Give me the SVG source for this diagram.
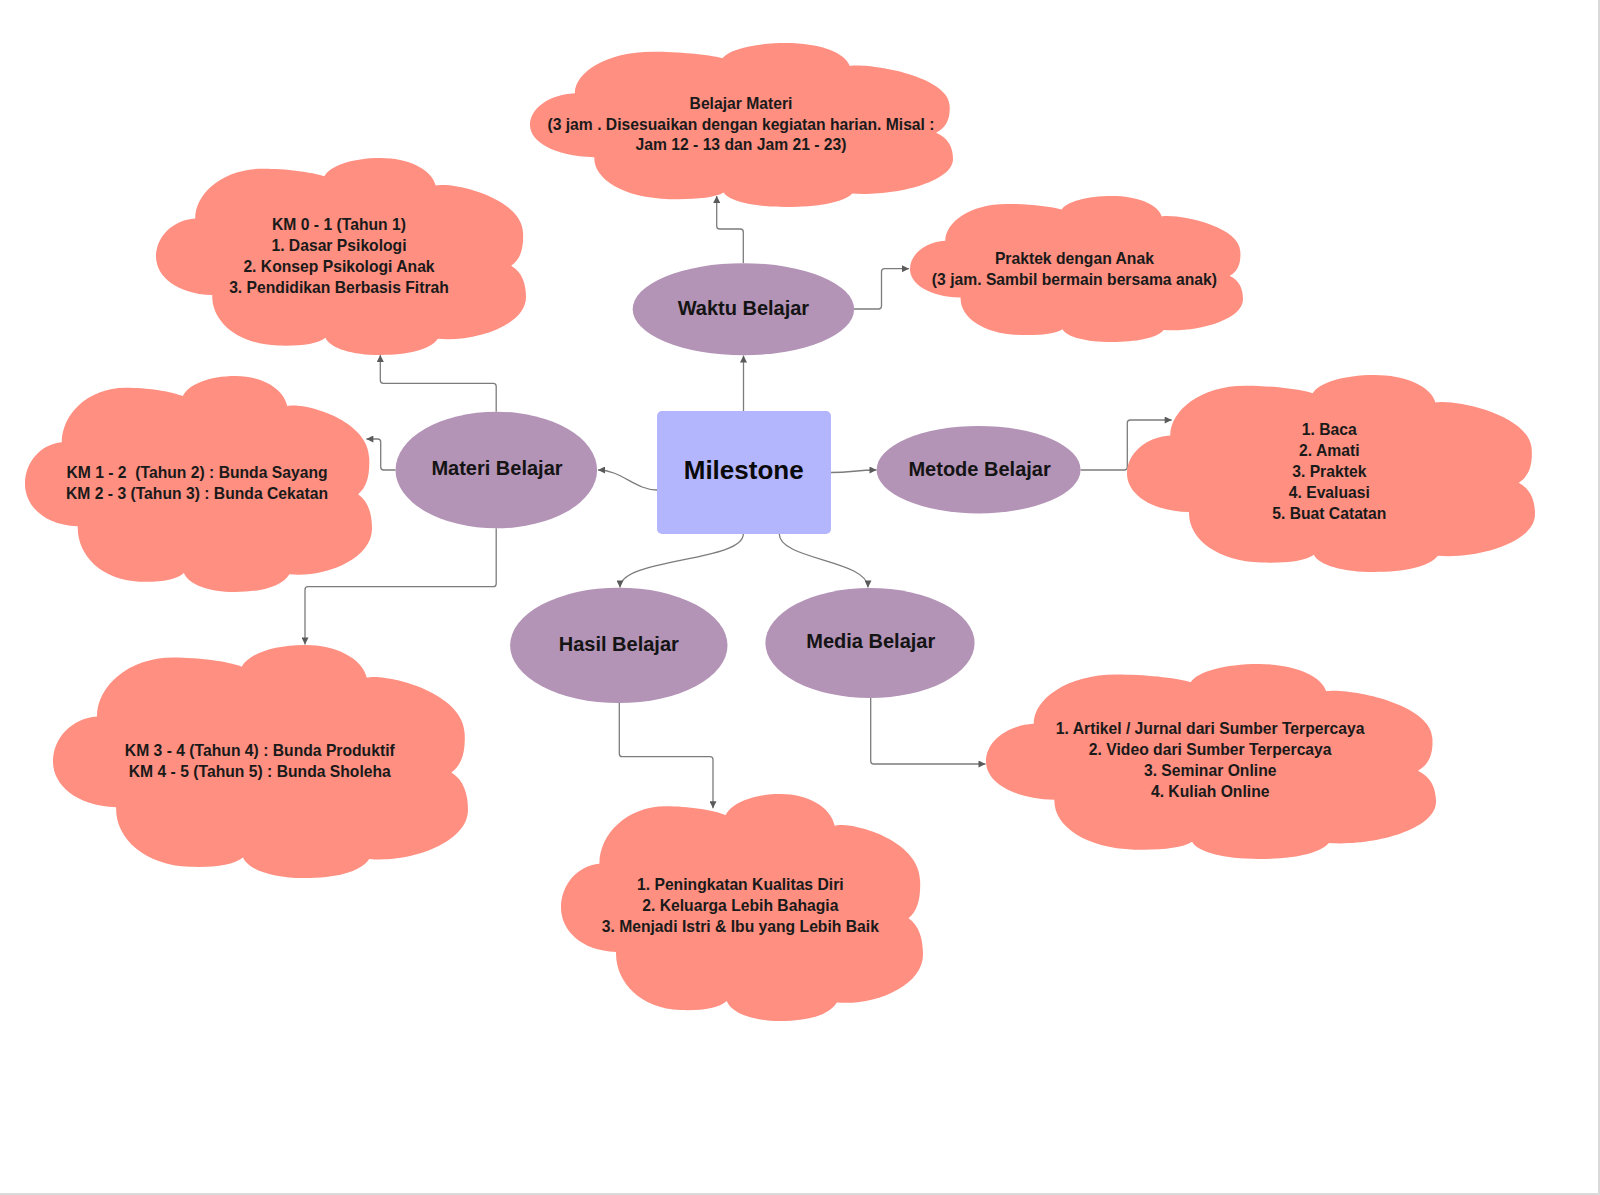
<svg xmlns="http://www.w3.org/2000/svg" xmlns:xlink="http://www.w3.org/1999/xlink" width="1600" height="1195" viewBox="0 0 1600 1195">
<style>
.cloud{fill:#ff8f80}
.ell{fill:#b393b6}
.ct{font-family:"Liberation Sans",Arial,sans-serif;font-weight:bold;font-size:15.7px;fill:#1a1a1a;text-anchor:middle;white-space:pre}
.et{font-family:"Liberation Sans",Arial,sans-serif;font-weight:bold;font-size:20px;fill:#141414;text-anchor:middle}
.mt{font-family:"Liberation Sans",Arial,sans-serif;font-weight:bold;font-size:26px;fill:#0a0a0a;text-anchor:middle}
.cn{fill:none;stroke:#7c7c7c;stroke-width:1.3;marker-end:url(#arr)}
.frame{stroke:#dadada;stroke-width:2}
</style>
<defs>
<marker id="arr" viewBox="0 0 10 10" refX="10" refY="5" markerWidth="9" markerHeight="7" markerUnits="userSpaceOnUse" orient="auto">
<path d="M0,0 L10,5 L0,10 z" fill="#5a5a5a"/>
</marker>
<path id="cloudShape" d="M152,696 C55,690 0,600 0,500 C0,400 45,315 106,307 C106,180 180,54 290,54 C350,54 420,70 455,93 C470,40 530,0 607,0 C680,0 745,55 756,140 C800,120 990,200 992,381 C994,460 985,515 960,547 C990,580 1000,640 1000,707 C1000,850 860,935 762,918 C740,975 680,1000 605,1000 C530,1000 470,965 458,912 C435,945 390,955 330,952 C220,945 150,830 152,696 Z"/>
</defs>
<rect width="1600" height="1195" fill="#ffffff"/>
<g id="frame">
<line class="frame" x1="1599" y1="0" x2="1599" y2="1195"/>
<line class="frame" x1="0" y1="1194" x2="1600" y2="1194"/>
</g>
<g id="connectors">
<path class="cn" d="M743.5,411 V355.5"/>
<path class="cn" d="M743.3,263 V232 Q743.3,229 740.3,229 H719.7 Q716.7,229 716.7,226 V196"/>
<path class="cn" d="M854,309 H878.5 Q881.5,309 881.5,306 V271.7 Q881.5,268.7 884.5,268.7 H909"/>
<path class="cn" d="M657,490 C635,490 622,470 598,470"/>
<path class="cn" d="M831,472.5 C852,472.5 856,470 876.5,470"/>
<path class="cn" d="M743.3,534 C743.3,562 620,558 620,587.5"/>
<path class="cn" d="M779.3,534 C779.3,560 868,560 868,587.5"/>
<path class="cn" d="M1080.6,470 H1124.3 Q1127.3,470 1127.3,467 V423 Q1127.3,420 1130.3,420 H1171.7"/>
<path class="cn" d="M496.2,411.7 V386.3 Q496.2,383.3 493.2,383.3 H383.3 Q380.3,383.3 380.3,380.3 V355"/>
<path class="cn" d="M395.5,470 H383.7 Q380.7,470 380.7,467 V442 Q380.7,439 377.7,439 H366.4"/>
<path class="cn" d="M496.2,528.3 V583.7 Q496.2,586.7 493.2,586.7 H308 Q305,586.7 305,589.7 V644.5"/>
<path class="cn" d="M619.3,703 V753.7 Q619.3,756.7 622.3,756.7 H710 Q713,756.7 713,759.7 V808.3"/>
<path class="cn" d="M870.7,698 V761 Q870.7,764 873.7,764 H985.5"/>
</g>
<g id="milestone">
<rect x="657" y="411" width="174" height="123" rx="5" fill="#b3b5fd"/>
<text class="mt" x="743.7" y="479.3">Milestone</text>
</g>
<g id="waktu-belajar">
<ellipse class="ell" cx="743.4" cy="309.2" rx="110.7" ry="46"/>
<text class="et" x="743.4" y="315">Waktu Belajar</text>
</g>
<g id="materi-belajar">
<ellipse class="ell" cx="496.3" cy="470" rx="100.8" ry="58.3"/>
<text class="et" x="497" y="475">Materi Belajar</text>
</g>
<g id="metode-belajar">
<ellipse class="ell" cx="978.6" cy="469.7" rx="102" ry="43.7"/>
<text class="et" x="979.6" y="475.7">Metode Belajar</text>
</g>
<g id="hasil-belajar">
<ellipse class="ell" cx="618.8" cy="645.4" rx="108.7" ry="57.7"/>
<text class="et" x="618.8" y="651">Hasil Belajar</text>
</g>
<g id="media-belajar">
<ellipse class="ell" cx="870" cy="643" rx="104.6" ry="55"/>
<text class="et" x="870.8" y="648.3">Media Belajar</text>
</g>
<g id="cloud-belajar-materi">
<use xlink:href="#cloudShape" href="#cloudShape" class="cloud" transform="translate(530,43) scale(0.423,0.164)"/>
<text class="ct" x="741" y="109">Belajar Materi</text>
<text class="ct" x="741" y="129.5">(3 jam . Disesuaikan dengan kegiatan harian. Misal :</text>
<text class="ct" x="741" y="150">Jam 12 - 13 dan Jam 21 - 23)</text>
</g>
<g id="cloud-praktek">
<use xlink:href="#cloudShape" href="#cloudShape" class="cloud" transform="translate(910,196) scale(0.333,0.146)"/>
<text class="ct" x="1074.4" y="263.5">Praktek dengan Anak</text>
<text class="ct" x="1074.4" y="284.5">(3 jam. Sambil bermain bersama anak)</text>
</g>
<g id="cloud-km01">
<use xlink:href="#cloudShape" href="#cloudShape" class="cloud" transform="translate(156,158) scale(0.370,0.197)"/>
<text class="ct" x="339" y="229.5">KM 0 - 1 (Tahun 1)</text>
<text class="ct" x="339" y="250.5">1. Dasar Psikologi</text>
<text class="ct" x="339" y="271.5">2. Konsep Psikologi Anak</text>
<text class="ct" x="339" y="292.5">3. Pendidikan Berbasis Fitrah</text>
</g>
<g id="cloud-km12">
<use xlink:href="#cloudShape" href="#cloudShape" class="cloud" transform="translate(25,376) scale(0.347,0.216)"/>
<text class="ct" x="197" y="477.5" xml:space="preserve">KM 1 - 2  (Tahun 2) : Bunda Sayang</text>
<text class="ct" x="197" y="498.5">KM 2 - 3 (Tahun 3) : Bunda Cekatan</text>
</g>
<g id="cloud-metode">
<use xlink:href="#cloudShape" href="#cloudShape" class="cloud" transform="translate(1127,375) scale(0.408,0.197)"/>
<text class="ct" x="1329.3" y="435">1. Baca</text>
<text class="ct" x="1329.3" y="456">2. Amati</text>
<text class="ct" x="1329.3" y="477">3. Praktek</text>
<text class="ct" x="1329.3" y="498">4. Evaluasi</text>
<text class="ct" x="1329.3" y="519">5. Buat Catatan</text>
</g>
<g id="cloud-km34">
<use xlink:href="#cloudShape" href="#cloudShape" class="cloud" transform="translate(53,645) scale(0.415,0.233)"/>
<text class="ct" x="259.8" y="755.7">KM 3 - 4 (Tahun 4) : Bunda Produktif</text>
<text class="ct" x="259.8" y="776.7">KM 4 - 5 (Tahun 5) : Bunda Sholeha</text>
</g>
<g id="cloud-hasil">
<use xlink:href="#cloudShape" href="#cloudShape" class="cloud" transform="translate(561,794) scale(0.362,0.227)"/>
<text class="ct" x="740.3" y="890">1. Peningkatan Kualitas Diri</text>
<text class="ct" x="740.3" y="911">2. Keluarga Lebih Bahagia</text>
<text class="ct" x="740.3" y="932">3. Menjadi Istri &amp; Ibu yang Lebih Baik</text>
</g>
<g id="cloud-media">
<use xlink:href="#cloudShape" href="#cloudShape" class="cloud" transform="translate(986,664) scale(0.450,0.195)"/>
<text class="ct" x="1210.2" y="734.3">1. Artikel / Jurnal dari Sumber Terpercaya</text>
<text class="ct" x="1210.2" y="755.3">2. Video dari Sumber Terpercaya</text>
<text class="ct" x="1210.2" y="776.3">3. Seminar Online</text>
<text class="ct" x="1210.2" y="797">4. Kuliah Online</text>
</g>
</svg>
